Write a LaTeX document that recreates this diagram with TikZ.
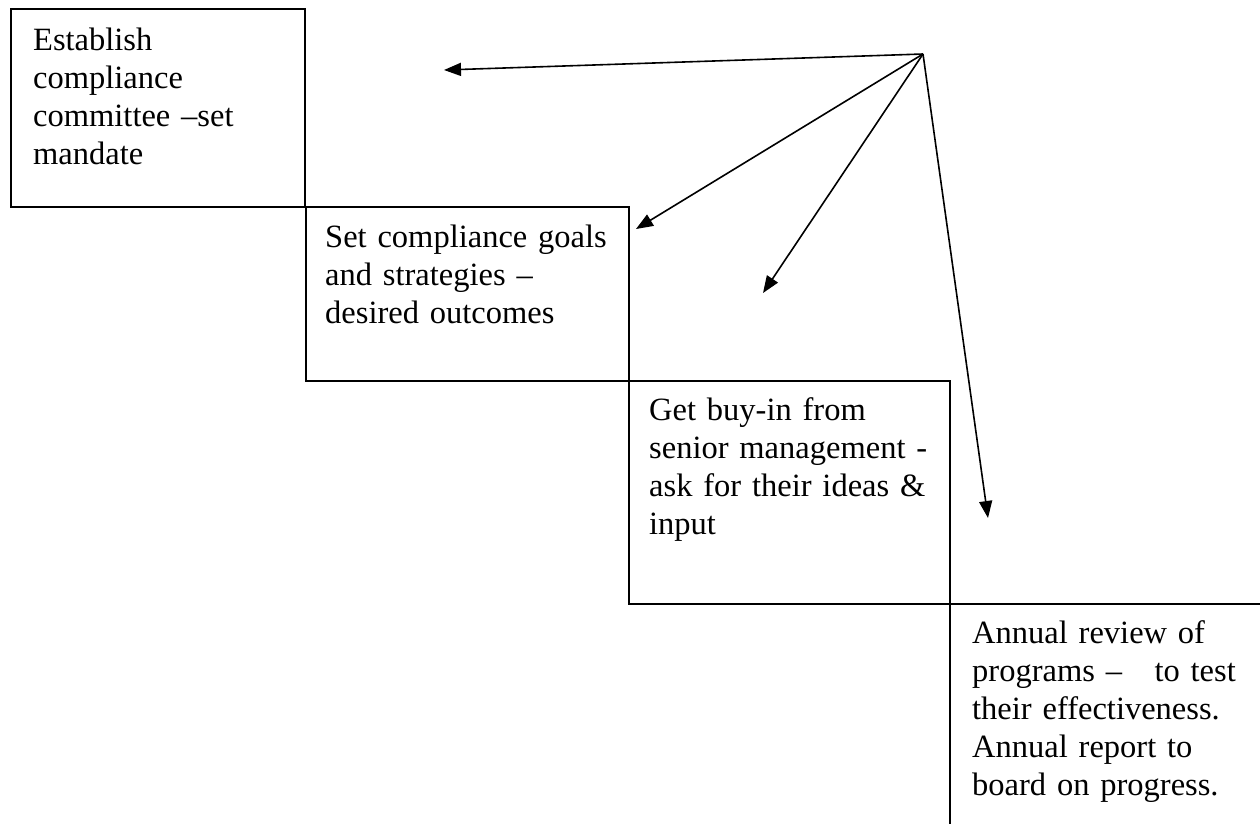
\documentclass[tikz,border=0pt]{standalone}
\usepackage{fontspec}
\setmainfont{Liberation Serif}
\usetikzlibrary{arrows.meta}
\tikzset{
  box/.style={draw=black, line width=1.8pt, rectangle, inner sep=0pt, anchor=north west},
  txt/.style={anchor=north west, inner sep=0pt, align=left, text width=330pt,
    font=\fontsize{32.5}{38}\selectfont},
  arr/.style={line width=1.6pt, -{Triangle[length=17pt,width=13pt]}}
}
\begin{document}
\begin{tikzpicture}[x=1pt,y=-1pt]
\useasboundingbox (0,0) rectangle (1260,823);
\fill[white] (0,0) rectangle (1260,823);
% boxes
\node[box, minimum width=294pt, minimum height=198pt] (b1) at (10,8) {};
\node[box, minimum width=323pt, minimum height=174pt] (b2) at (305,206) {};
\node[box, minimum width=321pt, minimum height=223pt] (b3) at (628,380) {};
\node[box, minimum width=360pt, minimum height=260pt] (b4) at (949,603) {};
% texts
\node[txt] (t1) at (33,23.4) {\strut Establish\\compliance\\committee –set\\mandate};
\node[txt] (t2) at (325,220.4) {\strut Set compliance goals\\and strategies –\\desired outcomes};
\node[txt] (t3) at (649,393.4) {\strut Get buy-in from\\senior management -\\ask for their ideas \&\\input};
\node[txt] (t4) at (972,616.4) {\strut Annual review of\\programs –~~~to test\\their effectiveness.\\Annual report to\\board on progress.};
% arrows
\coordinate (hub) at (923,54);
\coordinate (e1) at (444,70);
\coordinate (e2) at (636,229);
\coordinate (e3) at (763,293);
\coordinate (e4) at (988,518);
\draw[arr] (hub) -- (e1);
\draw[arr] (hub) -- (e2);
\draw[arr] (hub) -- (e3);
\draw[arr] (hub) -- (e4);
\end{tikzpicture}
\end{document}
